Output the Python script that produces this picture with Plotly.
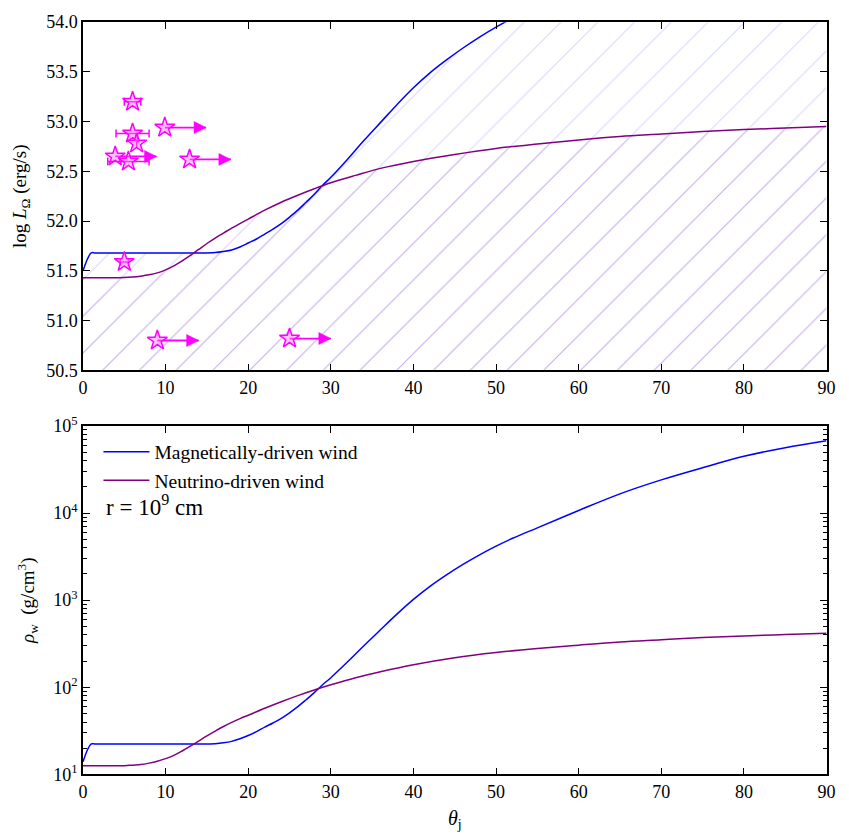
import plotly.graph_objects as go

# ---------------- data ----------------
theta_mag = [0, 1, 1.5, 5, 10, 14, 16, 17, 18, 19, 20, 21, 22, 23, 24, 25, 26, 27, 28, 29, 30,
             32, 34, 36, 38, 40, 42, 44, 46, 48, 50, 52, 55, 60, 65, 70, 75, 80, 85, 90]
logL_mag = [51.50, 51.68, 51.68, 51.68, 51.68, 51.68, 51.685, 51.695, 51.71, 51.74, 51.78, 51.82,
            51.87, 51.92, 51.975, 52.04, 52.11, 52.19, 52.27, 52.36, 52.44, 52.62, 52.81,
            52.99, 53.17, 53.34, 53.49, 53.62, 53.74, 53.85, 53.95, 54.04, 54.16, 54.36,
            54.54, 54.69, 54.83, 54.95, 55.06, 55.16]
rho_mag = [14, 22.4, 22.4, 22.4, 22.4, 22.4, 22.6, 23.1, 24, 25.7, 28, 31, 35, 39, 44, 51, 60, 72,
           87, 107, 129, 195, 300, 457, 692, 1020, 1440, 1950, 2570, 3310, 4170, 5130, 6760,
           10700, 16600, 24000, 33100, 44700, 56200, 67600]

theta_neu = [0, 3, 5, 6, 7, 8, 9, 10, 11, 12, 13, 14, 15, 16, 17, 18, 19, 20, 22, 24, 26,
             28, 30, 33, 36, 40, 45, 50, 55, 60, 65, 70, 75, 80, 85, 90]
logL_neu = [51.43, 51.43, 51.433, 51.438, 51.447, 51.46, 51.48, 51.51, 51.55, 51.60, 51.655,
            51.715, 51.775, 51.83, 51.88, 51.93, 51.975, 52.02, 52.11, 52.19, 52.26, 52.325,
            52.385, 52.46, 52.53, 52.60, 52.67, 52.73, 52.775, 52.815, 52.85, 52.875, 52.90,
            52.92, 52.935, 52.95]
rho_neu = [12.6, 12.6, 12.6, 12.8, 13.0, 13.5, 14.2, 15.2, 16.6, 18.6, 21.1, 24.2, 27.7,
           31.5, 35.5, 39.6, 43.7, 47.9, 57.5, 68.4, 80.4, 93.3, 107, 129, 151, 182, 219,
           251, 279, 305, 331, 351, 372, 389, 403, 417]

# observed GRBs with error bars in theta_j
obs_theta = [6.0, 6.0, 6.5, 5.5, 5.0]
obs_logL = [53.20, 52.88, 52.78, 52.60, 51.59]
obs_theta_err = [1.0, 2.0, 0.0, 2.5, 0.5]

# lower limits in theta_j (arrows)
lim_theta = [9.9, 3.9, 12.9, 9.0, 25.0]
lim_logL = [52.94, 52.65, 52.62, 50.80, 50.82]
lim_length = [5, 5, 5, 5, 5]

labels = ["Magnetically-driven wind", "Neutrino-driven wind"]
rho_tickvals = [1e1, 1e2, 1e3, 1e4, 1e5]
rho_ticktext = ["10<sup>1</sup>", "10<sup>2</sup>", "10<sup>3</sup>", "10<sup>4</sup>", "10<sup>5</sup>"]

BLUE = "#0000ff"
PURPLE = "#800080"
MAGENTA = "#ff00ff"
FONT = "Liberation Serif, Times New Roman, serif"

fig = go.Figure()

# hatched regions (top panel)
fig.add_trace(go.Scatter(
    x=theta_mag, y=logL_mag, mode="lines", line=dict(width=0, shape="spline", smoothing=1),
    fill="tozeroy", fillcolor="rgba(0,0,0,0)",
    fillpattern=dict(shape="/", fgcolor="rgba(70,70,255,0.22)", bgcolor="rgba(0,0,0,0)",
                     size=26, solidity=0.04, fillmode="replace"),
    showlegend=False, hoverinfo="skip", xaxis="x", yaxis="y"))
fig.add_trace(go.Scatter(
    x=theta_neu, y=logL_neu, mode="lines", line=dict(width=0, shape="spline", smoothing=1),
    fill="tozeroy", fillcolor="rgba(0,0,0,0)",
    fillpattern=dict(shape="/", fgcolor="rgba(128,0,128,0.18)", bgcolor="rgba(0,0,0,0)",
                     size=26, solidity=0.04, fillmode="replace"),
    showlegend=False, hoverinfo="skip", xaxis="x", yaxis="y"))

line_mag = dict(color=BLUE, width=1.5, shape="spline", smoothing=1)
line_neu = dict(color=PURPLE, width=1.5, shape="spline", smoothing=1)

# top curves
fig.add_trace(go.Scatter(x=theta_mag, y=logL_mag, mode="lines", line=line_mag,
                         showlegend=False, xaxis="x", yaxis="y"))
fig.add_trace(go.Scatter(x=theta_neu, y=logL_neu, mode="lines", line=line_neu,
                         showlegend=False, xaxis="x", yaxis="y"))

# arrows for lower limits
ax_x, ax_y = [], []
for t, l, d in zip(lim_theta, lim_logL, lim_length):
    ax_x += [t, t + d, None]
    ax_y += [l, l, None]
fig.add_trace(go.Scatter(x=ax_x, y=ax_y, mode="lines", line=dict(color=MAGENTA, width=1.8),
                         showlegend=False, xaxis="x", yaxis="y"))
fig.add_trace(go.Scatter(x=[t + d for t, d in zip(lim_theta, lim_length)], y=lim_logL,
                         mode="markers",
                         marker=dict(symbol="arrow-right", size=12, color=MAGENTA,
                                     line=dict(width=0.5, color=MAGENTA)),
                         showlegend=False, xaxis="x", yaxis="y"))

star_marker = dict(symbol="star", size=15, color="rgba(255,120,255,0.45)",
                   line=dict(color=MAGENTA, width=1.5))
fig.add_trace(go.Scatter(x=lim_theta, y=lim_logL, mode="markers", marker=star_marker,
                         showlegend=False, xaxis="x", yaxis="y"))
fig.add_trace(go.Scatter(x=obs_theta, y=obs_logL, mode="markers", marker=star_marker,
                         error_x=dict(type="data", array=obs_theta_err, color=MAGENTA,
                                      thickness=1.5, width=4),
                         showlegend=False, xaxis="x", yaxis="y"))

# bottom curves
fig.add_trace(go.Scatter(x=theta_mag, y=rho_mag, mode="lines", name=labels[0],
                         line=line_mag, xaxis="x2", yaxis="y2"))
fig.add_trace(go.Scatter(x=theta_neu, y=rho_neu, mode="lines", name=labels[1],
                         line=line_neu, xaxis="x2", yaxis="y2"))

xdom = [79.3 / 849, 835.3 / 849]
axis_common = dict(showline=True, linecolor="black", linewidth=1.5, mirror="ticks",
                   ticks="inside", ticklen=7, tickwidth=1, tickcolor="black",
                   showgrid=False, zeroline=False,
                   tickfont=dict(family=FONT, size=18, color="black"))

minor_vals = [m * 10 ** k for k in range(1, 5) for m in range(2, 10)]

fig.update_layout(
    width=849, height=840,
    margin=dict(l=0, r=0, t=0, b=0),
    paper_bgcolor="white", plot_bgcolor="white",
    font=dict(family=FONT, size=18, color="black"),
    xaxis=dict(domain=xdom, range=[0, 90], dtick=10, anchor="y", **axis_common),
    yaxis=dict(domain=[1 - 368 / 840, 1 - 10.4 / 840], range=[50.5, 54], dtick=0.5,
               tickformat=".1f", anchor="x",
               title=dict(text="log <i>L</i><sub>Ω</sub> (erg/s)", standoff=14,
                          font=dict(family=FONT, size=19)),
               **axis_common),
    xaxis2=dict(domain=xdom, range=[0, 90], dtick=10, anchor="y2",
                title=dict(text="<i>θ</i><sub>j</sub>", standoff=10,
                           font=dict(family=FONT, size=20)),
                **axis_common),
    yaxis2=dict(domain=[1 - 783 / 840, 1 - 425 / 840], type="log", range=[1, 5],
                tickmode="array", tickvals=rho_tickvals, ticktext=rho_ticktext, anchor="x2",
                minor=dict(tickmode="array", tickvals=minor_vals, ticks="inside", ticklen=4,
                           tickcolor="black", showgrid=False),
                title=dict(text="<i>ρ</i><sub>w</sub>  (g/cm<sup>3</sup>)", standoff=14,
                           font=dict(family=FONT, size=19)),
                **axis_common),
    legend=dict(x=95 / 849, y=1 - 432 / 840, xanchor="left", yanchor="top",
                bgcolor="rgba(0,0,0,0)", borderwidth=0,
                font=dict(family=FONT, size=19.5, color="black"), itemwidth=46,
                tracegroupgap=0),
    annotations=[dict(text="r = 10<sup>9</sup> cm", x=101 / 849, y=1 - 507 / 840,
                      xref="paper", yref="paper", xanchor="left", yanchor="middle",
                      showarrow=False, font=dict(family=FONT, size=23, color="black"))],
)

fig.write_html("out.html")
